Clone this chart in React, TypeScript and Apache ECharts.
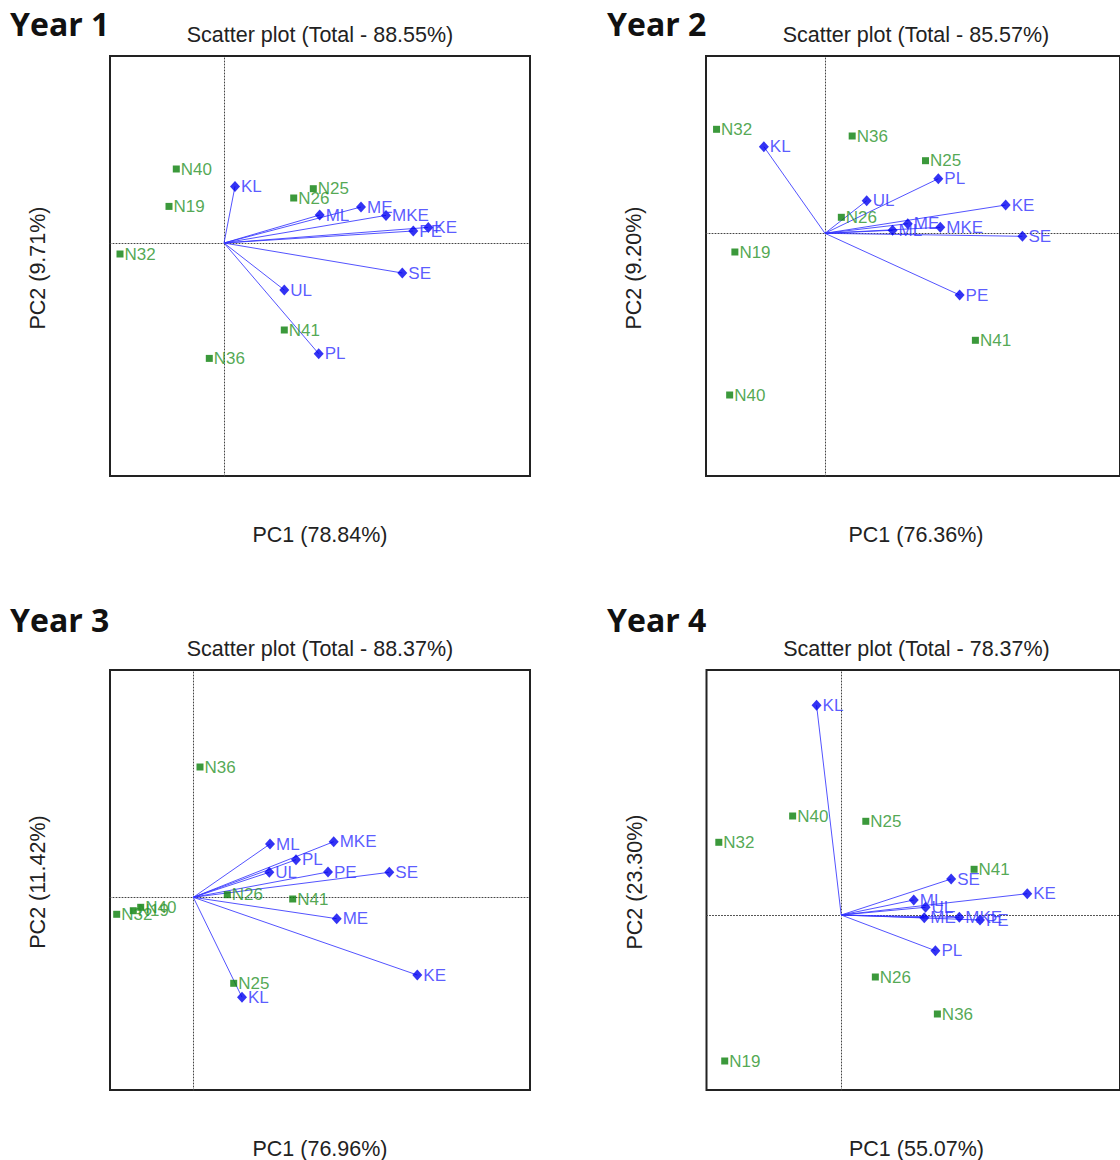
import React, { useEffect, useRef } from "react";
import * as echarts from "echarts";

// Genotypes (green squares) and traits (blue vectors) shown in every biplot
const genotypes = ["N19", "N25", "N26", "N32", "N36", "N40", "N41"];
const traits = ["KL", "ML", "ME", "MKE", "KE", "PE", "SE", "UL", "PL"];

const years = ["Year 1", "Year 2", "Year 3", "Year 4"];
const totals = ["88.55%", "85.57%", "88.37%", "78.37%"];
const pc1Share = ["78.84%", "76.36%", "76.96%", "55.07%"];
const pc2Share = ["9.71%", "9.20%", "11.42%", "23.30%"];

// Year 1 scores
const y1GenoPC1 = [-0.55, 0.893, 0.697, -1.04, -0.147, -0.477, 0.603];
const y1GenoPC2 = [0.366, 0.543, 0.45, -0.11, -1.154, 0.74, -0.87];
const y1TraitPC1 = [0.11, 0.957, 1.37, 1.62, 2.043, 1.893, 1.783, 0.603, 0.947];
const y1TraitPC2 = [0.566, 0.28, 0.36, 0.276, 0.156, 0.12, -0.3, -0.47, -1.107];

// Year 2 scores
const y2GenoPC1 = [-0.914, 1.02, 0.166, -1.1, 0.276, -0.967, 1.526];
const y2GenoPC2 = [-0.187, 0.726, 0.16, 1.04, 0.973, -1.617, -1.07];
const y2TraitPC1 = [-0.62, 0.686, 0.84, 1.17, 1.833, 1.366, 2.003, 0.423, 1.15];
const y2TraitPC2 = [0.866, 0.03, 0.096, 0.06, 0.283, -0.617, -0.03, 0.326, 0.546];

// Year 3 scores
const y3GenoPC1 = [-0.6, 0.404, 0.34, -0.766, 0.067, -0.526, 0.994];
const y3GenoPC2 = [-0.134, -0.86, 0.026, -0.17, 1.303, -0.1, -0.017];
const y3TraitPC1 = [0.487, 0.767, 1.434, 1.404, 2.24, 1.347, 1.96, 0.76, 1.027];
const y3TraitPC2 = [-1.0, 0.533, -0.214, 0.556, -0.777, 0.253, 0.25, 0.25, 0.376];

// Year 4 scores
const y4GenoPC1 = [-1.183, 0.25, 0.347, -1.243, 0.977, -0.493, 1.35];
const y4GenoPC2 = [-1.46, 0.937, -0.62, 0.727, -0.99, 0.99, 0.457];
const y4TraitPC1 = [-0.25, 0.737, 0.844, 1.2, 1.89, 1.41, 1.117, 0.857, 0.957];
const y4TraitPC2 = [2.097, 0.15, -0.027, -0.023, 0.213, -0.05, 0.36, 0.077, -0.357];

// Axis extents per year
const xMin = [-1.14, -1.207, -0.833, -1.368];
const xMax = [3.06, 2.993, 3.367, 2.832];
const yMin = [-2.33, -2.427, -1.927, -1.75];
const yMax = [1.87, 1.773, 2.273, 2.45];

const genoPC1 = [y1GenoPC1, y2GenoPC1, y3GenoPC1, y4GenoPC1];
const genoPC2 = [y1GenoPC2, y2GenoPC2, y3GenoPC2, y4GenoPC2];
const traitPC1 = [y1TraitPC1, y2TraitPC1, y3TraitPC1, y4TraitPC1];
const traitPC2 = [y1TraitPC2, y2TraitPC2, y3TraitPC2, y4TraitPC2];

const FONT = "'Liberation Sans', Arial, sans-serif";
const PANEL_LEFT = [110, 706, 110, 706.5];
const PANEL_TOP = [56, 56, 670, 670];
const HEADING_X = [10, 607, 10, 607];
const HEADING_Y = [23, 23, 619, 619];
const SIZE = 420;

function centeredText(text: string, x: number, y: number, size: number, rotation = 0) {
  return {
    type: "text",
    x,
    y,
    rotation,
    style: {
      text,
      font: `${size}px ${FONT}`,
      fill: "#222",
      align: "center",
      verticalAlign: "middle",
      textAlign: "center",
      textVerticalAlign: "middle",
    },
  };
}

function buildOption() {
  const grid: any[] = [];
  const xAxis: any[] = [];
  const yAxis: any[] = [];
  const series: any[] = [];
  const graphic: any[] = [];

  for (let i = 0; i < 4; i++) {
    const left = PANEL_LEFT[i];
    const top = PANEL_TOP[i];
    const cx = left + SIZE / 2;
    grid.push({
      left,
      top,
      width: SIZE,
      height: SIZE,
      show: true,
      borderColor: "#222",
      borderWidth: 2,
      backgroundColor: "transparent",
      containLabel: false,
    });
    const axisLine = {
      show: true,
      onZero: true,
      lineStyle: { color: "#444", width: 1, type: [1, 2] },
    };
    xAxis.push({
      gridIndex: i,
      type: "value",
      min: xMin[i],
      max: xMax[i],
      axisLine,
      axisTick: { show: false },
      axisLabel: { show: false },
      splitLine: { show: false },
    });
    yAxis.push({
      gridIndex: i,
      type: "value",
      min: yMin[i],
      max: yMax[i],
      axisLine,
      axisTick: { show: false },
      axisLabel: { show: false },
      splitLine: { show: false },
    });

    series.push({
      type: "lines",
      coordinateSystem: "cartesian2d",
      xAxisIndex: i,
      yAxisIndex: i,
      silent: true,
      z: 2,
      lineStyle: { color: "#3535ff", width: 1, opacity: 0.85 },
      data: traits.map((_, k) => ({
        coords: [
          [0, 0],
          [traitPC1[i][k], traitPC2[i][k]],
        ],
      })),
    });
    series.push({
      type: "scatter",
      xAxisIndex: i,
      yAxisIndex: i,
      z: 3,
      symbol: "rect",
      symbolSize: 7,
      itemStyle: { color: "#0a7f0a" },
      label: {
        show: true,
        position: "right",
        distance: 1,
        color: "#279227",
        fontSize: 17,
        fontFamily: FONT,
        formatter: (p: any) => p.value[2],
      },
      data: genotypes.map((g, k) => [genoPC1[i][k], genoPC2[i][k], g]),
    });
    series.push({
      type: "scatter",
      xAxisIndex: i,
      yAxisIndex: i,
      z: 4,
      symbol: "diamond",
      symbolSize: [10, 11],
      itemStyle: { color: "#0000f0" },
      label: {
        show: true,
        position: "right",
        distance: 1,
        color: "#3030ff",
        fontSize: 17,
        fontFamily: FONT,
        formatter: (p: any) => p.value[2],
      },
      data: traits.map((t, k) => [traitPC1[i][k], traitPC2[i][k], t]),
    });

    // Year heading
    graphic.push({
      type: "text",
      x: HEADING_X[i],
      y: HEADING_Y[i],
      style: {
        text: years[i],
        font: "bold 32px 'Open Sans', sans-serif",
        fill: "#111",
        align: "left",
        verticalAlign: "middle",
        textAlign: "left",
        textVerticalAlign: "middle",
      },
    });
    graphic.push(centeredText(`Scatter plot (Total - ${totals[i]})`, cx, top - 21, 21.5));
    graphic.push(centeredText(`PC1 (${pc1Share[i]})`, cx, top + SIZE + 59, 21.5));
    graphic.push(centeredText(`PC2 (${pc2Share[i]})`, left - 72, top + SIZE / 2 + 2, 21.5, Math.PI / 2));
  }

  return {
    animation: false,
    backgroundColor: "#ffffff",
    grid,
    xAxis,
    yAxis,
    series,
    graphic,
  };
}

export default function App() {
  const ref = useRef<HTMLDivElement>(null);
  useEffect(() => {
    if (!ref.current) return;
    const chart = echarts.init(ref.current, undefined, { renderer: "svg" });
    chart.setOption(buildOption());
    return () => chart.dispose();
  }, []);
  return (
    <div
      ref={ref}
      style={{ position: "absolute", left: 0, top: 0, width: 1120, height: 1160 }}
    />
  );
}
